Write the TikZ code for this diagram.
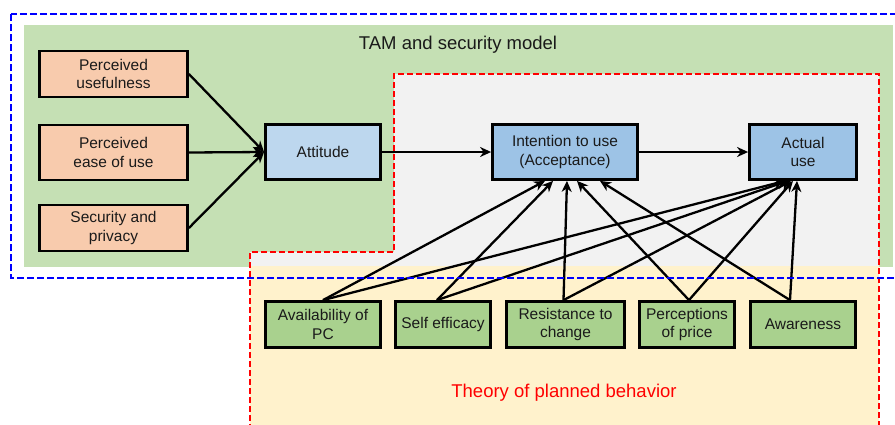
\documentclass[tikz,border=0pt]{standalone}
\usepackage{fontspec}
\setmainfont{Liberation Sans}
\usetikzlibrary{arrows.meta}
\definecolor{tamgreen}{HTML}{C5E0B4}
\definecolor{graybg}{HTML}{F2F2F2}
\definecolor{yellowbg}{HTML}{FFF2CC}
\definecolor{orangebox}{HTML}{F8CBAD}
\definecolor{lightblue}{HTML}{BDD7EE}
\definecolor{midblue}{HTML}{9DC3E6}
\definecolor{greenbox}{HTML}{A9D18E}
\definecolor{txt}{HTML}{1A1A1A}
\begin{document}
\begin{tikzpicture}[x=1pt,y=-1pt,
  box/.style={draw=black,line width=2.8pt,inner sep=0pt,align=center,text=txt,
    font=\fontsize{15.5}{18.5}\selectfont},
  arr/.style={line width=2.3pt,-{Stealth[length=11pt,width=10pt,inset=3.5pt]}},
  bluedash/.style={draw=blue,line width=2pt,dash pattern=on 7pt off 3pt},
  reddash/.style={draw=red,line width=1.8pt,dash pattern=on 6pt off 3pt},
  lbl/.style={anchor=base,inner sep=0pt,font=\fontsize{18.5}{22}\selectfont}]
\useasboundingbox (0,0) rectangle (895,424);
\clip (0,0) rectangle (895,424);
\fill[white] (0,0) rectangle (895,424);
% regions
\fill[tamgreen] (24,25) rectangle (893,267);
\fill[graybg] (394,74) -- (879,74) -- (879,266) -- (250,266) -- (250,252) -- (394,252) -- cycle;
\fill[yellowbg] (250,266) rectangle (879,430);
\draw[reddash] (250,430) -- (250,252) -- (394,252) -- (394,74) -- (879,74) -- (879,430);
% labels
\node[lbl,text=txt] (tamlbl) at (458,49) {TAM and security model};
\node[lbl,text=red] (tpblbl) at (564,397) {Theory of planned behavior};
% nodes
\node[box,fill=orangebox,minimum width=148pt,minimum height=46pt] (pu) at (113.5,74) {Perceived\\usefulness};
\node[box,fill=orangebox,minimum width=148pt,minimum height=55pt] (pe) at (113.5,152.5) {Perceived\\ease of use};
\node[box,fill=orangebox,minimum width=148pt,minimum height=46pt] (sp) at (113.5,228) {Security and\\privacy};
\node[box,fill=lightblue,minimum width=115pt,minimum height=55pt] (att) at (323,152) {Attitude};
\node[box,fill=midblue,minimum width=145pt,minimum height=55pt] (int) at (565,152) {Intention to use\\(Acceptance)};
\node[box,fill=midblue,minimum width=107pt,minimum height=55pt] (act) at (803,152) {Actual\\use};
\node[box,fill=greenbox,minimum width=115pt,minimum height=46pt] (avail) at (323,324.5) {Availability of\\PC};
\node[box,fill=greenbox,minimum width=95pt,minimum height=46pt] (self) at (443,324.5) {Self efficacy};
\node[box,fill=greenbox,minimum width=118pt,minimum height=46pt] (res) at (565.5,324.5) {Resistance to\\change};
\node[box,fill=greenbox,minimum width=95pt,minimum height=46pt] (perc) at (687,324.5) {Perceptions\\of price};
\node[box,fill=greenbox,minimum width=105pt,minimum height=46pt] (aware) at (803,324.5) {Awareness};
% arrows
\draw[arr] (pu.east) -- (att.west);
\draw[arr] (pe.east) -- (att.west);
\draw[arr] (sp.east) -- (att.west);
\draw[arr] (att.east) -- (int.west);
\draw[arr] (int.east) -- (act.west);
\draw[arr] (avail.north) -- ([xshift=-20pt]int.south);
\draw[arr] ([xshift=-6pt]self.north) -- ([xshift=-12pt]int.south);
\draw[arr] ([xshift=-2pt]res.north) -- ([xshift=2pt]int.south);
\draw[arr] ([xshift=2pt]perc.north) -- ([xshift=12pt]int.south);
\draw[arr] ([xshift=-13pt]aware.north) -- ([xshift=35pt]int.south);
\draw[arr] (avail.north) -- ([xshift=-18pt]act.south);
\draw[arr] ([xshift=-6pt]self.north) -- ([xshift=-15pt]act.south);
\draw[arr] ([xshift=-2pt]res.north) -- ([xshift=-12pt]act.south);
\draw[arr] ([xshift=2pt]perc.north) -- ([xshift=-10pt]act.south);
\draw[arr] ([xshift=-13pt]aware.north) -- ([xshift=-6pt]act.south);
% outer blue dashed frame
\draw[bluedash] (11,14) rectangle (905,278);
\end{tikzpicture}
\end{document}
